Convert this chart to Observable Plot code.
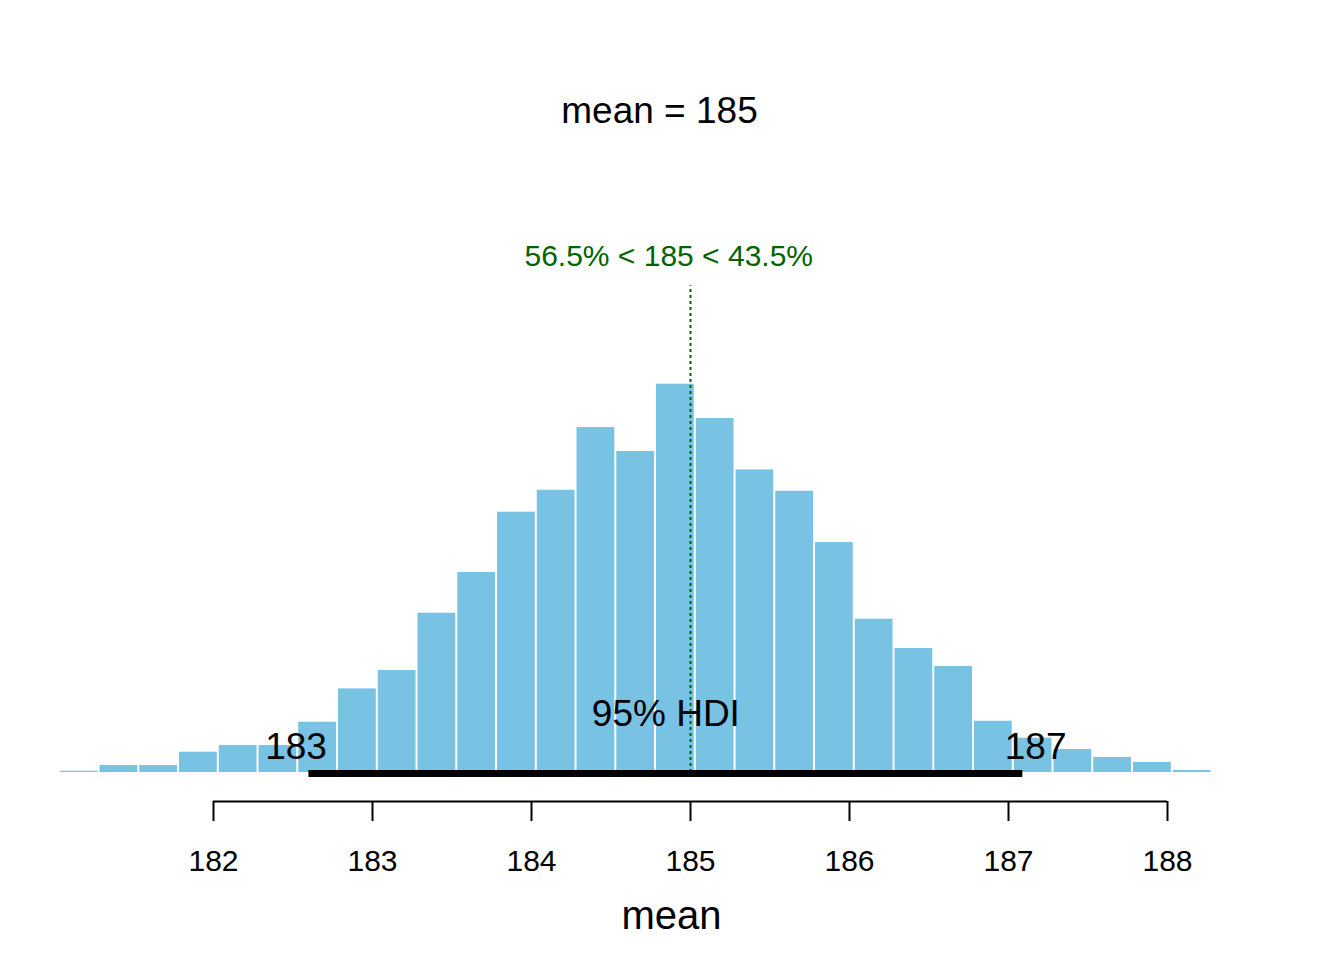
<!DOCTYPE html>
<html>
<head>
<meta charset="utf-8">
<script src="https://cdn.jsdelivr.net/npm/d3@7"></script>
<script src="https://cdn.jsdelivr.net/npm/@observablehq/plot@0.6"></script>
<style>
  body { margin: 0; background: #ffffff; }
  #chart svg { display: block; }
</style>
</head>
<body>
<div id="chart"></div>
<script>
// ---- data ----
const paramName = "mean";
const binStart = 181.03;
const binWidth = 0.25;
const density = [
  0.0013, 0.0071, 0.0071, 0.0205, 0.0272, 0.0272, 0.0507, 0.0843, 0.1028, 0.1606,
  0.2016, 0.2624, 0.2845, 0.3477, 0.3236, 0.3914, 0.3568, 0.3050, 0.2835, 0.2318,
  0.1545, 0.1250, 0.1068, 0.0517, 0.0346, 0.0232, 0.0151, 0.0101, 0.0020
];
const meanValue = 185.0;
const compValue = 185;
const pctBelow = 56.5;
const pctAbove = 43.5;
const compHeight = 0.511;
const hdiLow = 182.60;
const hdiHigh = 187.09;
const hdiMass = 95;
const xTicks = [182, 183, 184, 185, 186, 187, 188];
const yDomain = [-0.0292, 0.504];

// ---- helpers ----
const FONT = "Liberation Sans, Arial, Helvetica, sans-serif";
const ctx = document.createElement("canvas").getContext("2d");
function textWidth(t, size) {
  ctx.font = `${size}px "Liberation Sans", Arial, sans-serif`;
  return ctx.measureText(t).width;
}
const sig3 = d3.format(".3~r");

const bins = density.map((d, i) => ({
  x1: binStart + i * binWidth,
  x2: binStart + (i + 1) * binWidth,
  density: d
}));

const compText = `${pctBelow}% < ${sig3(compValue)} < ${pctAbove}%`;
const compW = textWidth(compText, 30);
const lowText = sig3(hdiLow), highText = sig3(hdiHigh);
const lowW = textWidth(lowText, 36), highW = textWidth(highText, 36);

const chart = Plot.plot({
  width: 1344,
  height: 960,
  marginTop: 272,
  marginBottom: 159,
  marginLeft: 40,
  marginRight: 42,
  style: { fontFamily: FONT, background: "#ffffff", color: "#000000" },
  x: { domain: [182, 188], range: [213, 1167] },
  y: { domain: yDomain, axis: null },
  marks: [
    Plot.rectY(bins, {
      x1: "x1", x2: "x2", y: "density",
      fill: "#78C2E4", insetLeft: 1, insetRight: 1
    }),
    Plot.ruleX([compValue], {
      x: d => d, y1: 0, y2: 0.96 * compHeight,
      stroke: "#006400", strokeWidth: 2, strokeDasharray: "3,3"
    }),
    Plot.text([compText], {
      x: compValue, y: compHeight, text: d => d,
      textAnchor: "start", dx: -(pctBelow / 100) * compW - 3, lineAnchor: "bottom",
      fill: "#006400", fontSize: 30
    }),
    Plot.ruleY([0], {
      x1: hdiLow, x2: hdiHigh, y: d => d,
      stroke: "#000000", strokeWidth: 7, dy: 1
    }),
    Plot.text([`${hdiMass}% HDI`], {
      x: (hdiLow + hdiHigh) / 2, y: 0, text: d => d,
      textAnchor: "middle", lineAnchor: "bottom", dy: -47,
      fill: "#000000", fontSize: 37
    }),
    Plot.text([lowText], {
      x: hdiLow, y: 0, text: d => d,
      textAnchor: "end", dx: 0.3 * lowW, lineAnchor: "bottom", dy: -14,
      fill: "#000000", fontSize: 37
    }),
    Plot.text([highText], {
      x: hdiHigh, y: 0, text: d => d,
      textAnchor: "start", dx: -0.3 * highW, lineAnchor: "bottom", dy: -14,
      fill: "#000000", fontSize: 37
    }),
    // x axis
    Plot.ruleY([yDomain[0]], {
      x1: xTicks[0], x2: xTicks[xTicks.length - 1], y: d => d,
      stroke: "#000000", strokeWidth: 2
    }),
    Plot.axisX(xTicks, {
      anchor: "bottom", tickSize: 20, tickPadding: 28, strokeWidth: 2,
      fontSize: 30, label: null, tickFormat: d => String(d), fill: "#000000"
    }),
    Plot.text([paramName], {
      frameAnchor: "bottom", text: d => d, lineAnchor: "bottom", dy: 127,
      fontSize: 40, fill: "#000000"
    }),
    // title
    Plot.text([`${paramName} = ${sig3(meanValue)}`], {
      frameAnchor: "top", text: d => d, lineAnchor: "bottom", dy: -150, dx: -12,
      fontSize: 37, fill: "#000000"
    })
  ]
});
document.getElementById("chart").appendChild(chart);
</script>
</body>
</html>
